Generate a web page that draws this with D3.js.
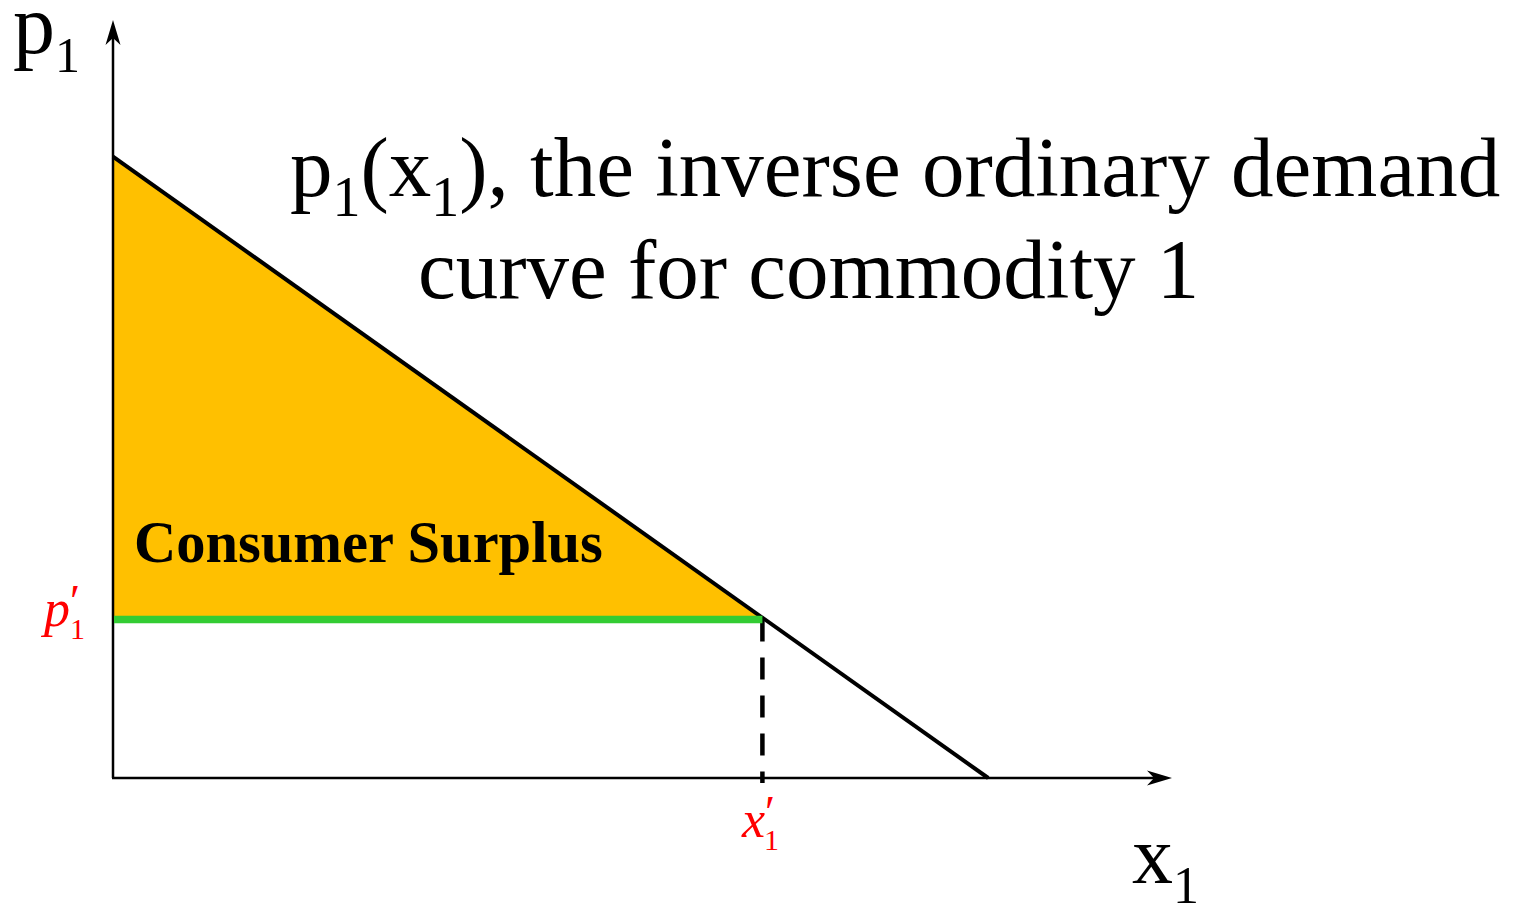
<!DOCTYPE html>
<html>
<head>
<meta charset="utf-8">
<script src="https://cdn.jsdelivr.net/npm/d3@7"></script>
<style>
  body { margin: 0; background: #fff; }
</style>
</head>
<body>
<div id="chart"></div>
<script>
// demand curve end points (x1, p1)
var demand   = [ [0, 10], [10, 0] ];
var x_prime  = 7.42;
var p_prime  = 2.55;
var x_max    = 12.1;   // axis lengths
var p_max    = 12.2;

var width  = 1527;
var height = 906;
var serif  = "'Liberation Serif', 'Times New Roman', serif";

var svg = d3.select('#chart')
    .append('svg')
    .attr('width', width)
    .attr('height', height)
    .style('font-family', serif);

var scale_x = d3.scaleLinear().domain([0, x_max]).range([113, 1172]);
var scale_y = d3.scaleLinear().domain([0, p_max]).range([778, 20]);

var line = d3.line()
    .x(function(d){ return scale_x(d[0]); })
    .y(function(d){ return scale_y(d[1]); });

// consumer surplus area
var surplus = [ [0, demand[0][1]], [x_prime, p_prime], [0, p_prime] ];
svg.append('path')
   .attr('d', line(surplus) + 'Z')
   .attr('fill', '#ffc000');

// axes
svg.append('line')
   .attr('x1', scale_x(0)).attr('y1', scale_y(0))
   .attr('x2', scale_x(0)).attr('y2', scale_y(p_max) + 10)
   .attr('stroke', '#000').attr('stroke-width', 2.5);
svg.append('line')
   .attr('x1', scale_x(0) - 1).attr('y1', scale_y(0))
   .attr('x2', scale_x(x_max) - 10).attr('y2', scale_y(0))
   .attr('stroke', '#000').attr('stroke-width', 2.5);

// arrow heads
var ax = scale_x(0), ay = scale_y(p_max);
svg.append('path')
   .attr('d', 'M' + ax + ',' + ay + 'L' + (ax - 7.5) + ',' + (ay + 25) + 'L' + ax + ',' + (ay + 18) + 'L' + (ax + 7.5) + ',' + (ay + 25) + 'Z')
   .attr('fill', '#000');
var bx = scale_x(x_max), by = scale_y(0);
svg.append('path')
   .attr('d', 'M' + bx + ',' + by + 'L' + (bx - 25) + ',' + (by - 7.5) + 'L' + (bx - 18) + ',' + by + 'L' + (bx - 25) + ',' + (by + 7.5) + 'Z')
   .attr('fill', '#000');

// demand curve
svg.append('path')
   .attr('d', line(demand))
   .attr('stroke', '#000').attr('stroke-width', 4).attr('fill', 'none');

// dashed drop line
svg.append('line')
   .attr('x1', scale_x(x_prime)).attr('y1', scale_y(p_prime))
   .attr('x2', scale_x(x_prime)).attr('y2', scale_y(0) + 5)
   .attr('stroke', '#000').attr('stroke-width', 4.5)
   .attr('stroke-dasharray', '22,16');

// price line
svg.append('line')
   .attr('x1', scale_x(0) + 1).attr('y1', scale_y(p_prime))
   .attr('x2', scale_x(x_prime)).attr('y2', scale_y(p_prime))
   .attr('stroke', '#33cc33').attr('stroke-width', 7.5);

// axis labels
function subLabel(x, y, main, sub, size, subSize, shift) {
    var t = svg.append('text').attr('x', x).attr('y', y)
        .attr('font-size', size).attr('fill', '#000');
    t.append('tspan').text(main);
    t.append('tspan').attr('font-size', subSize).attr('dy', shift).text(sub);
    return t;
}
subLabel(13, 53, 'p', '1', 84, 50, 19);
subLabel(1132, 883, 'x', '1', 82, 52, 20);

// curve description
var title = svg.append('text').attr('x', 290).attr('y', 196).attr('font-size', 85);
title.append('tspan').text('p');
title.append('tspan').attr('font-size', 56).attr('dy', 20).text('1');
title.append('tspan').attr('dy', -20).text('(x');
title.append('tspan').attr('font-size', 56).attr('dy', 20).text('1');
title.append('tspan').attr('dy', -20).text('), the inverse ordinary demand');

svg.append('text').attr('x', 418).attr('y', 298).attr('font-size', 85)
   .text('curve for commodity 1');

svg.append('text').attr('x', 134).attr('y', 562)
   .attr('font-size', 58.5).attr('font-weight', 'bold')
   .text('Consumer Surplus');

// red tick labels
function primeLabel(x, y, main, subX) {
    var t = svg.append('text').attr('x', x).attr('y', y)
        .attr('font-size', 52).attr('fill', '#ff0000').attr('font-style', 'italic');
    t.append('tspan').text(main);
    t.append('tspan').attr('font-size', 46).attr('dy', -9).attr('font-style', 'normal').text('\u2032');
    t.append('tspan').attr('font-size', 30).attr('font-style', 'normal')
        .attr('x', x + subX).attr('dy', 22).text('1');
}
primeLabel(44, 626, 'p', 26);
primeLabel(742, 837, 'x', 22);
</script>
</body>
</html>
